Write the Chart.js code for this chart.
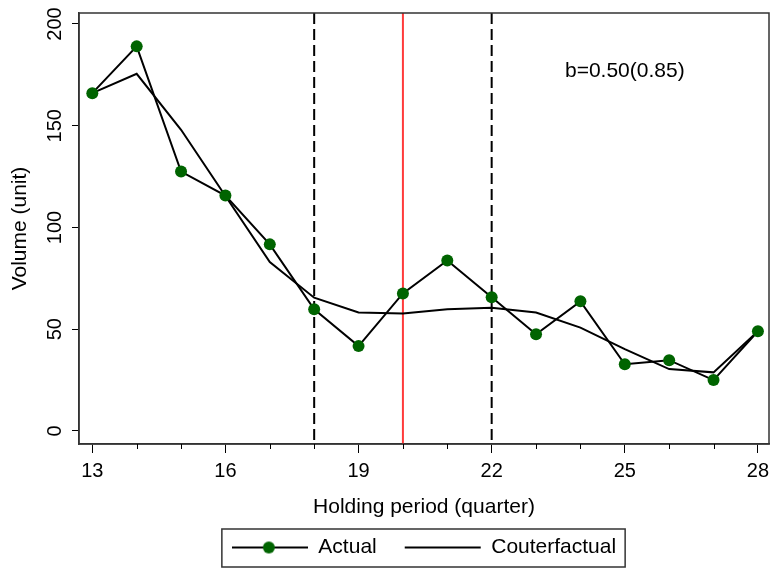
<!DOCTYPE html>
<html>
<head>
<meta charset="utf-8">
<script src="https://cdn.jsdelivr.net/npm/chart.js@4/dist/chart.umd.min.js"></script>
<style>
  html, body { margin: 0; padding: 0; background: #fff; }
</style>
</head>
<body>
<canvas id="myChart" width="771" height="568"></canvas>
<script>
var quarters = [13, 14, 15, 16, 17, 18, 19, 20, 21, 22, 23, 24, 25, 26, 27, 28];
var actual = [166, 189, 127.5, 115.7, 91.7, 59.8, 41.7, 67.6, 83.8, 65.7, 47.5, 63.7, 32.8, 34.8, 25, 49];
var counterfactual = [166, 175.5, 148, 115.5, 83, 65.5, 58.2, 57.7, 59.8, 60.6, 58.2, 50.8, 40.2, 30.4, 28.8, 49];
var xLabels = [13, 16, 19, 22, 25, 28];
var yLabels = [0, 50, 100, 150, 200];
var windowLines = [18, 22];
var eventLine = [20];
var note = { x: 25, y: 177, text: 'b=0.50(0.85)' };

var FONT = "'Liberation Sans', Arial, sans-serif";
Chart.defaults.font.family = FONT;
Chart.defaults.color = '#000';

function toPoints(values) {
    return quarters.map((q, i) => ({ x: q, y: values[i] }));
}

// legend icon for the "Actual" series: line with a dot
var actualIcon = document.createElement('canvas');
actualIcon.width = 76;
actualIcon.height = 16;
(function () {
    let c = actualIcon.getContext('2d');
    c.strokeStyle = '#000';
    c.lineWidth = 2;
    c.beginPath();
    c.moveTo(0, 8);
    c.lineTo(76, 8);
    c.stroke();
    c.fillStyle = '#006400';
    c.beginPath();
    c.arc(37, 8, 6, 0, Math.PI * 2);
    c.fill();
})();

var extras = {
    id: 'extras',
    afterLayout(chart) {
        // center the legend under the plot area
        let a = chart.chartArea;
        let lg = chart.legend;
        lg.left = a.left;
        lg.right = a.right;
        lg.width = a.right - a.left;
    },
    beforeDatasetsDraw(chart) {
        let ctx = chart.ctx;
        let a = chart.chartArea;
        let xs = chart.scales.x;
        ctx.save();
        ctx.lineWidth = 2;
        ctx.strokeStyle = '#000';
        ctx.setLineDash([11, 5]);
        windowLines.forEach(v => {
            let px = xs.getPixelForValue(v);
            ctx.beginPath();
            ctx.moveTo(px, a.top);
            ctx.lineTo(px, a.bottom);
            ctx.stroke();
        });
        ctx.setLineDash([]);
        ctx.strokeStyle = '#ff3b3b';
        eventLine.forEach(v => {
            let px = xs.getPixelForValue(v);
            ctx.beginPath();
            ctx.moveTo(px, a.top);
            ctx.lineTo(px, a.bottom);
            ctx.stroke();
        });
        ctx.restore();
    },
    afterDraw(chart) {
        let ctx = chart.ctx;
        let a = chart.chartArea;
        let xs = chart.scales.x;
        let ys = chart.scales.y;
        ctx.save();
        // frame
        ctx.strokeStyle = '#333';
        ctx.lineWidth = 1.5;
        ctx.strokeRect(a.left, a.top, a.right - a.left, a.bottom - a.top);
        // minor x ticks
        ctx.strokeStyle = '#000';
        ctx.lineWidth = 1;
        quarters.forEach(q => {
            if (xLabels.indexOf(q) < 0) {
                let px = Math.round(xs.getPixelForValue(q)) + 0.5;
                ctx.beginPath();
                ctx.moveTo(px, a.bottom);
                ctx.lineTo(px, a.bottom + 5);
                ctx.stroke();
            }
        });
        // annotation
        ctx.fillStyle = '#000';
        ctx.font = '21px ' + FONT;
        ctx.textAlign = 'center';
        ctx.textBaseline = 'middle';
        ctx.fillText(note.text, xs.getPixelForValue(note.x), ys.getPixelForValue(note.y));
        // legend border
        let hb = chart.legend.legendHitBoxes;
        if (hb && hb.length) {
            let l = hb[0].left - 10;
            let r = hb[hb.length - 1].left + hb[hb.length - 1].width + 9;
            let mid = hb[0].top + hb[0].height / 2;
            ctx.strokeStyle = '#333';
            ctx.lineWidth = 1.5;
            ctx.strokeRect(l, mid - 18.5, r - l, 38);
        }
        ctx.restore();
    }
};

function init() {
    let data = {
        datasets: [{
            label: 'Actual',
            data: toPoints(actual),
            borderColor: '#000',
            borderWidth: 2,
            backgroundColor: '#006400',
            pointBackgroundColor: '#006400',
            pointBorderColor: '#006400',
            pointRadius: 6,
            pointBorderWidth: 0,
            tension: 0,
            fill: false,
            clip: 8
        }, {
            label: 'Couterfactual',
            data: toPoints(counterfactual),
            borderColor: '#000',
            borderWidth: 2,
            backgroundColor: '#000',
            pointRadius: 0,
            tension: 0,
            fill: false
        }]
    };

    let config = {
        type: 'line',
        data,
        plugins: [extras],
        options: {
            responsive: false,
            animation: false,
            layout: {
                autoPadding: false,
                padding: { top: 13, right: 2, left: 0, bottom: 0 }
            },
            plugins: {
                tooltip: { enabled: false },
                legend: {
                    position: 'bottom',
                    labels: {
                        usePointStyle: true,
                        pointStyleWidth: 76,
                        padding: 28,
                        color: '#000',
                        font: { size: 21, family: FONT },
                        generateLabels(chart) {
                            let items = Chart.defaults.plugins.legend.labels.generateLabels(chart);
                            items[0].pointStyle = actualIcon;
                            items[1].pointStyle = 'line';
                            return items;
                        }
                    }
                }
            },
            scales: {
                x: {
                    type: 'linear',
                    min: 12.7,
                    max: 28.25,
                    afterBuildTicks(scale) {
                        scale.ticks = xLabels.map(v => ({ value: v }));
                    },
                    afterFit(scale) {
                        scale.height = 65;
                        scale.paddingLeft = 0;
                        scale.paddingRight = 0;
                    },
                    grid: {
                        drawOnChartArea: false,
                        tickLength: 9,
                        tickColor: '#000'
                    },
                    border: { color: '#333', width: 1.5 },
                    ticks: {
                        padding: 6,
                        maxRotation: 0,
                        color: '#000',
                        font: { size: 20, family: FONT }
                    },
                    title: {
                        display: true,
                        text: 'Holding period (quarter)',
                        color: '#000',
                        font: { size: 21, family: FONT },
                        padding: { top: 0, bottom: -10.5 }
                    }
                },
                y: {
                    type: 'linear',
                    min: -6.4,
                    max: 205.4,
                    afterBuildTicks(scale) {
                        scale.ticks = yLabels.map(v => ({ value: v }));
                    },
                    afterFit(scale) {
                        scale.width = 79;
                        scale.paddingTop = 0;
                        scale.paddingBottom = 0;
                    },
                    grid: {
                        drawOnChartArea: false,
                        tickLength: 7,
                        tickColor: '#000'
                    },
                    border: { color: '#333', width: 1.5 },
                    ticks: {
                        minRotation: 90,
                        maxRotation: 90,
                        crossAlign: 'center',
                        padding: 0,
                        color: '#000',
                        font: { size: 20, family: FONT }
                    },
                    title: {
                        display: true,
                        text: 'Volume (unit)',
                        color: '#000',
                        font: { size: 21, family: FONT },
                        padding: { top: 7.5, bottom: 0 }
                    }
                }
            }
        }
    };

    myChart = new Chart(document.getElementById('myChart'), config);
}

init();
</script>
</body>
</html>
